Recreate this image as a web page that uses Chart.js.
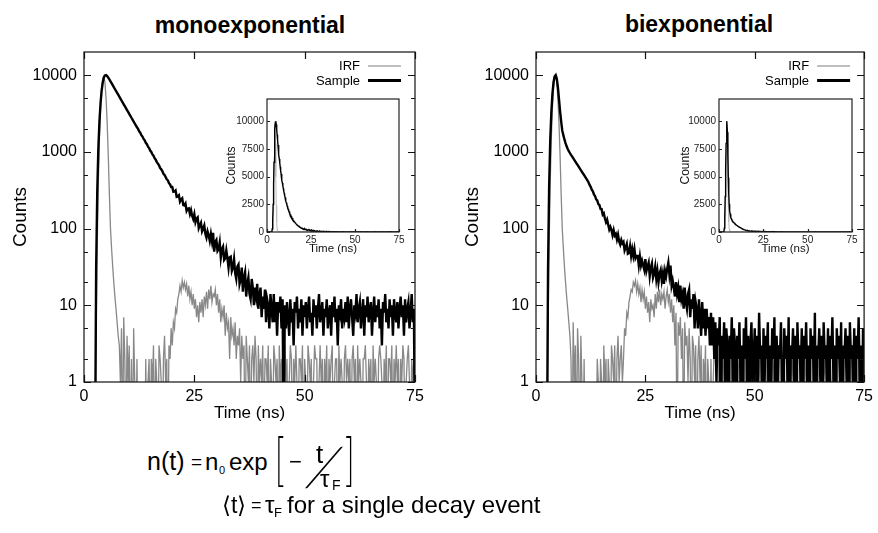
<!DOCTYPE html>
<html lang="en">
<head>
<meta charset="UTF-8" />
<title>Fluorescence decay: mono vs bi-exponential</title>
<script src="https://cdn.jsdelivr.net/npm/chart.js@4.4.0/dist/chart.umd.min.js"></script>
<style>
  body { margin: 0; background: #fff; font-family: "Liberation Sans", Arial, sans-serif; color: #000; }
  #stage { position: relative; width: 878px; height: 533px; overflow: hidden; }
  canvas { position: absolute; }
  .t { position: absolute; line-height: 0; white-space: nowrap; }
  .title { font-weight: bold; font-size: 23px; transform: translateX(-50%); }
  .thin { font-family: Lato, "Liberation Sans", sans-serif; font-weight: 300; }
</style>
</head>
<body>
<div id="stage">
  <div class="t title" style="left:250px; top:25px;">monoexponential</div>
  <div class="t title" style="left:699px; top:24px;">biexponential</div>

  <canvas id="mainMono" width="440" height="425" style="left:0; top:0;"></canvas>
  <canvas id="mainBi" width="426" height="425" style="left:452px; top:0;"></canvas>
  <canvas id="insetMono" width="186" height="182" style="left:224px; top:80px;"></canvas>
  <canvas id="insetBi" width="186" height="182" style="left:676px; top:80px;"></canvas>

  <!-- n(t) = n0 exp[ - t / tauF ] -->
  <div class="t" style="left:147px; top:461.3px; font-size:25px;">n(t)</div>
  <div class="t" style="left:191px; top:462px; font-size:19px;">=</div>
  <div class="t" style="left:205px; top:461.7px; font-size:24px;">n</div>
  <div class="t" style="left:219px; top:470px; font-size:11px;">0</div>
  <div class="t" style="left:229px; top:461.7px; font-size:24px;">exp</div>
  <div class="t thin" style="left:275px; top:457px; font-size:58px; transform:scaleX(0.55); transform-origin:0 0;">[</div>
  <div class="t" style="left:289px; top:461.7px; font-size:22px;">&minus;</div>
  <div class="t" style="left:316px; top:453.5px; font-size:26px;">t</div>
  <div class="t thin" style="left:313px; top:466px; font-size:54px; transform:skewX(-24deg); transform-origin:0 0;">/</div>
  <div class="t" style="left:320px; top:479px; font-size:24px;">&tau;</div>
  <div class="t" style="left:332px; top:485px; font-size:14px;">F</div>
  <div class="t thin" style="left:345px; top:457px; font-size:58px; transform:scaleX(0.55); transform-origin:0 0;">]</div>

  <!-- <t> = tauF for a single decay event -->
  <div class="t" style="left:222px; top:505px; font-size:23px;">&#10216;t&#10217;</div>
  <div class="t" style="left:251px; top:505.3px; font-size:18px;">=</div>
  <div class="t" style="left:265px; top:504.7px; font-size:24px;">&tau;</div>
  <div class="t" style="left:274px; top:512.5px; font-size:13px;">F</div>
  <div class="t" style="left:287px; top:504.7px; font-size:24px;">for a single decay event</div>
</div>

<script>
// time channels (ns), 0.25 ns apart
const timeNs = [
  0,0.25,0.5,0.75,1,1.25,1.5,1.75,2,2.25,2.5,2.75,3,3.25,3.5,3.75,4,4.25,4.5,4.75,
  5,5.25,5.5,5.75,6,6.25,6.5,6.75,7,7.25,7.5,7.75,8,8.25,8.5,8.75,9,9.25,9.5,9.75,
  10,10.25,10.5,10.75,11,11.25,11.5,11.75,12,12.25,12.5,12.75,13,13.25,13.5,13.75,14,14.25,14.5,14.75,
  15,15.25,15.5,15.75,16,16.25,16.5,16.75,17,17.25,17.5,17.75,18,18.25,18.5,18.75,19,19.25,19.5,19.75,
  20,20.25,20.5,20.75,21,21.25,21.5,21.75,22,22.25,22.5,22.75,23,23.25,23.5,23.75,24,24.25,24.5,24.75,
  25,25.25,25.5,25.75,26,26.25,26.5,26.75,27,27.25,27.5,27.75,28,28.25,28.5,28.75,29,29.25,29.5,29.75,
  30,30.25,30.5,30.75,31,31.25,31.5,31.75,32,32.25,32.5,32.75,33,33.25,33.5,33.75,34,34.25,34.5,34.75,
  35,35.25,35.5,35.75,36,36.25,36.5,36.75,37,37.25,37.5,37.75,38,38.25,38.5,38.75,39,39.25,39.5,39.75,
  40,40.25,40.5,40.75,41,41.25,41.5,41.75,42,42.25,42.5,42.75,43,43.25,43.5,43.75,44,44.25,44.5,44.75,
  45,45.25,45.5,45.75,46,46.25,46.5,46.75,47,47.25,47.5,47.75,48,48.25,48.5,48.75,49,49.25,49.5,49.75,
  50,50.25,50.5,50.75,51,51.25,51.5,51.75,52,52.25,52.5,52.75,53,53.25,53.5,53.75,54,54.25,54.5,54.75,
  55,55.25,55.5,55.75,56,56.25,56.5,56.75,57,57.25,57.5,57.75,58,58.25,58.5,58.75,59,59.25,59.5,59.75,
  60,60.25,60.5,60.75,61,61.25,61.5,61.75,62,62.25,62.5,62.75,63,63.25,63.5,63.75,64,64.25,64.5,64.75,
  65,65.25,65.5,65.75,66,66.25,66.5,66.75,67,67.25,67.5,67.75,68,68.25,68.5,68.75,69,69.25,69.5,69.75,
  70,70.25,70.5,70.75,71,71.25,71.5,71.75,72,72.25,72.5,72.75,73,73.25,73.5,73.75,74,74.25,74.5,74.75,
  75];

// monoexponential panel (counts per channel)
const sampleMono = [
  0,0,0,0,0,0,0,0,0,0,0,30,300,1100,2500,4300,6300,8000,9300,9900,
  10000,9700,9250,8780,8300,7840,7400,6980,6590,6230,5880,5550,5240,4950,4670,4410,4160,3930,3710,3500,
  3310,3120,2950,2780,2630,2480,2340,2210,2090,1990,1850,1775,1650,1580,1470,1410,1310,1260,1165,1120,
  1040,995,925,890,826,790,735,702,668,615,592,560,518,500,470,438,425,390,376,348,
  348,301,304,314,259,262,271,225,240,248,202,200,212,170,181,183,155,174,147,133,
  154,121,135,140,101,110,119,92,100,110,85,76,92,82,69,85,68,88,50,67,
  71,51,54,66,42,54,58,39,41,52,41,31,42,43,28,31,40,26,22,32,
  34,19,22,31,15,23,27,13,19,23,14,12,22,17,10,17,13,19,9,13,
  17,7,13,9,16,6,12,10,5,14,9,6,14,6,11,4,11,8,13,5,
  12,0,10,5,11,7,4,12,6,9,3,11,8,13,5,9,6,12,4,10,
  7,11,5,9,13,6,8,4,12,7,10,5,9,14,6,8,11,4,9,7,
  12,5,8,10,4,11,7,13,6,9,3,10,8,12,5,9,7,11,6,13,
  5,9,12,7,4,10,8,14,6,9,11,5,8,12,4,10,7,13,6,9,
  11,4,8,13,6,10,7,12,5,9,3,11,8,14,6,9,5,12,7,10,
  4,12,8,6,11,5,9,13,7,10,4,12,6,9,11,5,8,14,6,9,
  0];
const irfMono = [
  0,0,0,0,0,0,0,0,0,0,0,5,60,400,1500,3800,6800,9000,9700,8000,
  5000,2400,900,280,100,55,32,20,13,9,6,4,3,1,5,0,7,2,0,4,
  1,3,0,2,0,5,1,0,2,0,0,1,0,0,0,0,2,0,1,2,
  0,2,1,3,0,2,1,0,3,2,1,0,2,4,1,2,0,3,2,5,
  3,6,5,9,8,12,14,18,15,21,17,20,16,19,13,18,12,15,10,14,
  9,12,7,10,6,11,8,12,7,13,10,15,9,16,12,18,11,14,13,16,
  10,14,8,12,6,9,7,10,4,8,5,6,2,7,4,5,3,6,2,4,
  3,5,1,4,2,3,0,4,2,1,3,0,2,3,1,4,2,0,3,1,
  2,1,3,0,2,2,1,3,0,2,1,0,3,2,1,2,0,3,1,2,
  0,2,3,1,2,0,1,3,2,0,2,1,3,1,0,2,2,1,3,0,
  2,1,0,3,2,1,2,0,1,3,2,2,0,1,3,1,2,0,2,1,
  3,0,2,1,2,3,0,1,2,2,0,3,1,2,1,0,2,3,1,2,
  1,2,0,2,3,1,2,0,3,1,2,1,0,2,2,3,1,0,2,1,
  2,0,3,1,2,1,0,2,3,2,1,0,2,1,3,0,2,2,1,3,
  0,2,1,3,1,2,0,2,1,3,2,0,1,2,3,1,0,2,1,2,
  1];

// biexponential panel (counts per channel)
const sampleBi = [
  0,0,0,0,0,0,0,0,0,0,0,30,350,1400,3200,5600,8000,9600,10000,9000,
  7000,4900,3400,2500,1900,1650,1450,1300,1180,1090,1020,965,915,870,826,785,746,709,674,640,
  608,578,549,522,496,471,447,425,402,371,350,322,306,278,266,240,233,208,203,180,
  179,152,158,135,121,131,113,97,105,96,82,95,81,85,72,83,68,62,71,64,
  67,52,57,63,47,48,59,44,54,44,54,41,44,44,33,43,33,38,33,29,
  40,28,32,36,24,31,35,23,26,32,22,28,20,26,29,21,26,19,28,24,
  30,36,25,33,18,21,17,13,20,14,17,11,18,12,14,9,17,11,9,14,
  16,7,12,9,14,5,11,9,5,12,7,4,11,5,9,4,9,5,7,3,
  8,3,7,2,6,1,5,3,7,0,4,2,6,1,5,3,0,4,2,7,
  1,5,3,0,4,2,6,1,3,0,5,2,7,1,4,0,3,6,1,2,
  5,0,4,1,8,2,3,0,5,1,4,2,6,0,3,1,5,2,7,0,
  4,1,3,2,6,1,0,5,2,4,1,7,0,3,2,5,1,4,0,6,
  2,3,1,5,0,4,2,6,1,3,0,5,2,4,1,8,0,3,2,5,
  1,4,0,6,2,3,1,5,0,4,2,7,1,3,0,5,2,4,1,6,
  0,3,2,5,1,4,0,6,2,3,1,5,0,4,2,7,1,3,0,5,
  2];
const irfBi = [
  0,0,0,0,0,0,0,0,0,0,0,5,60,400,1500,3800,6800,9000,9700,8000,
  5000,2400,900,280,100,55,32,20,13,9,6,4,2,0,6,1,3,0,5,2,
  0,4,1,0,2,0,0,1,0,0,0,0,1,0,0,0,2,1,0,2,
  1,0,3,1,2,0,2,1,0,3,2,1,3,0,2,4,1,2,3,1,
  2,5,4,8,7,11,13,16,15,20,18,21,15,19,14,17,11,16,12,15,
  9,13,8,11,6,12,9,10,7,14,9,15,11,16,10,14,12,15,9,13,
  16,11,14,8,12,6,10,3,8,0,6,4,7,2,5,0,6,3,4,1,
  5,2,0,4,3,1,3,0,2,4,1,3,0,2,1,3,0,2,1,0,
  2,0,1,3,2,1,0,2,3,1,0,2,1,3,2,0,1,2,0,3,
  1,2,0,2,3,1,2,0,1,3,2,0,2,1,3,2,0,1,2,1,
  3,1,0,2,1,3,2,0,2,1,0,3,1,2,2,0,3,1,2,0,
  2,1,3,0,2,2,1,3,0,1,2,0,3,1,2,1,0,2,3,1,
  0,2,1,3,2,0,1,2,3,0,2,1,0,3,1,2,2,0,1,3,
  2,3,0,1,2,1,3,0,2,2,1,0,3,1,2,0,2,3,1,0,
  1,0,2,3,1,2,0,2,1,3,0,2,1,2,0,3,1,2,0,1,
  2];

const timeTicks = [0, 25, 50, 75];
const countTicks = [1, 10, 100, 1000, 10000];
const countMinorTicks = [2, 5, 20, 50, 200, 500, 2000, 5000];
const insetCountTicks = [0, 2500, 5000, 7500, 10000];
const legendLabels = ['IRF', 'Sample'];

Chart.defaults.font.family = "'Liberation Sans', Arial, sans-serif";
Chart.defaults.color = '#000';

const pts = (ys) => timeNs.map((t, i) => ({ x: t, y: ys[i] }));
// empty channels sit below the log axis floor, so the trace drops off the bottom
const logPts = (ys) => timeNs.map((t, i) => ({ x: t, y: ys[i] > 0 ? ys[i] : 0.1 }));

// frame around the plot area with inward ticks
const frameTicks = {
  id: 'frameTicks',
  afterDatasetsDraw(chart, args, o) {
    const { ctx, chartArea: a, scales: { x, y } } = chart;
    ctx.save();
    ctx.strokeStyle = o.color;
    ctx.lineWidth = o.width;
    ctx.beginPath();
    o.xTicks.forEach(v => {
      const px = Math.round(x.getPixelForValue(v)) + 0.5;
      ctx.moveTo(px, a.bottom); ctx.lineTo(px, a.bottom - o.len);
      if (o.allSides) { ctx.moveTo(px, a.top); ctx.lineTo(px, a.top + o.len); }
    });
    const yTick = (v, len) => {
      const py = Math.round(y.getPixelForValue(v)) + 0.5;
      ctx.moveTo(a.left, py); ctx.lineTo(a.left + len, py);
      if (o.allSides) { ctx.moveTo(a.right, py); ctx.lineTo(a.right - len, py); }
    };
    o.yTicks.forEach(v => yTick(v, o.len));
    o.yMinor.forEach(v => yTick(v, o.minorLen));
    ctx.stroke();
    ctx.strokeRect(a.left, a.top, a.right - a.left, a.bottom - a.top);
    ctx.restore();
  }
};

// "IRF ——" / "Sample ——" key in the top right corner
const sideLegend = {
  id: 'sideLegend',
  afterDraw(chart, args, o) {
    if (!o.items) return;
    const { ctx, chartArea: a } = chart;
    ctx.save();
    ctx.font = '13px "Liberation Sans", Arial, sans-serif';
    ctx.textAlign = 'right';
    ctx.textBaseline = 'middle';
    o.items.forEach((it, k) => {
      const yy = a.top + 14 + k * 14.5;
      ctx.fillStyle = '#000';
      ctx.fillText(it.label, a.right - 55, yy + 0.5);
      ctx.strokeStyle = it.color;
      ctx.lineWidth = it.width;
      ctx.beginPath();
      ctx.moveTo(a.right - 47, yy);
      ctx.lineTo(a.right - 14, yy);
      ctx.stroke();
    });
    ctx.restore();
  }
};

const whiteArea = {
  id: 'whiteArea',
  beforeDraw(chart) {
    const { ctx, chartArea: a } = chart;
    ctx.save();
    ctx.fillStyle = '#fff';
    ctx.fillRect(a.left, a.top, a.right - a.left, a.bottom - a.top);
    ctx.restore();
  }
};

function mainChart(id, irf, sample, padRight) {
  return new Chart(document.getElementById(id), {
    type: 'line',
    data: {
      datasets: [
        { label: legendLabels[1], data: logPts(sample), borderColor: '#000', borderWidth: 2.4 },
        { label: legendLabels[0], data: logPts(irf), borderColor: '#888', borderWidth: 1.3 }
      ]
    },
    options: {
      responsive: false,
      animation: false,
      events: [],
      layout: { padding: { top: 52, right: padRight, left: 0, bottom: 0 } },
      elements: { point: { radius: 0 }, line: { tension: 0 } },
      plugins: {
        legend: { display: false },
        tooltip: { enabled: false },
        frameTicks: { color: '#111', width: 1.2, len: 7, minorLen: 4, allSides: true,
          xTicks: timeTicks, yTicks: countTicks, yMinor: countMinorTicks },
        sideLegend: { items: [
          { label: legendLabels[0], color: '#a8a8a8', width: 1.5 },
          { label: legendLabels[1], color: '#000', width: 3 }
        ] }
      },
      scales: {
        x: {
          type: 'linear', min: 0, max: 75,
          afterFit: s => { s.height = 43; },
          afterBuildTicks: s => { s.ticks = timeTicks.map(v => ({ value: v })); },
          grid: { display: false, drawTicks: false },
          border: { display: false },
          ticks: { padding: 5, font: { size: 16 }, maxRotation: 0, callback: v => String(v) },
          title: { display: true, text: 'Time (ns)', font: { size: 17 }, padding: { top: 0, bottom: 1.5 } }
        },
        y: {
          type: 'logarithmic', min: 1, max: 20000,
          afterFit: s => { s.width = 84; },
          afterBuildTicks: s => { s.ticks = countTicks.map(v => ({ value: v })); },
          grid: { display: false, drawTicks: false },
          border: { display: false },
          ticks: { padding: 7, font: { size: 16 }, callback: v => String(v) },
          title: { display: true, text: 'Counts', font: { size: 19 }, padding: { top: 9, bottom: 0 } }
        }
      }
    },
    plugins: [frameTicks, sideLegend]
  });
}

function insetChart(id, irf, sample, padRight, titlePad) {
  return new Chart(document.getElementById(id), {
    type: 'line',
    data: {
      datasets: [
        { label: legendLabels[1], data: pts(sample), borderColor: '#000', borderWidth: 1.4 },
        { label: legendLabels[0], data: pts(irf), borderColor: '#bdbdbd', borderWidth: 1 }
      ]
    },
    options: {
      responsive: false,
      animation: false,
      events: [],
      layout: { padding: { top: 19, right: padRight, left: 0, bottom: 0 } },
      elements: { point: { radius: 0 }, line: { tension: 0 } },
      plugins: {
        legend: { display: false },
        tooltip: { enabled: false },
        frameTicks: { color: '#222', width: 1.2, len: 3, minorLen: 0, allSides: false,
          xTicks: timeTicks, yTicks: insetCountTicks, yMinor: [] }
      },
      scales: {
        x: {
          type: 'linear', min: 0, max: 75,
          afterFit: s => { s.height = 30; },
          afterBuildTicks: s => { s.ticks = timeTicks.map(v => ({ value: v })); },
          grid: { display: false, drawTicks: false },
          border: { display: false },
          ticks: { padding: 2, font: { size: 10 }, color: '#222', maxRotation: 0, callback: v => String(v) },
          title: { display: true, text: 'Time (ns)', font: { size: 11.5 }, color: '#111', padding: { top: 0, bottom: 6 } }
        },
        y: {
          type: 'linear', min: 0, max: 12000,
          afterFit: s => { s.width = 43; },
          afterBuildTicks: s => { s.ticks = insetCountTicks.map(v => ({ value: v })); },
          grid: { display: false, drawTicks: false },
          border: { display: false },
          ticks: { padding: 3, font: { size: 10 }, color: '#222', callback: v => String(v) },
          title: { display: true, text: 'Counts', font: { size: 12 }, color: '#111', padding: { top: titlePad, bottom: 0 } }
        }
      }
    },
    plugins: [whiteArea, frameTicks]
  });
}

mainChart('mainMono', irfMono, sampleMono, 25);
mainChart('mainBi', irfBi, sampleBi, 11);
insetChart('insetMono', irfMono, sampleMono, 11, 0.5);
insetChart('insetBi', irfBi, sampleBi, 10, 2.5);
</script>
</body>
</html>
